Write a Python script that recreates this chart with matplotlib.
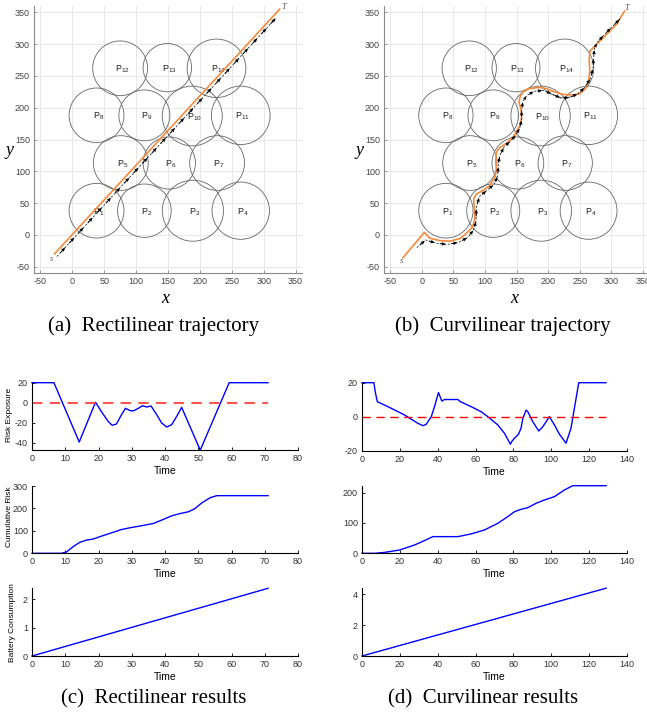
import numpy as np
import matplotlib
matplotlib.use("Agg")
import matplotlib.pyplot as plt
from matplotlib.patches import Circle

# ---------------- data ----------------
circle_names = ["1", "2", "3", "4", "5", "6", "7", "8", "9", "10", "11", "12", "13", "14"]
circle_cx = [38, 113, 189, 264, 76, 152, 227, 38, 113, 188, 264, 75, 149, 226]
circle_cy = [38, 38, 38, 38, 113, 113, 113, 188, 188, 187, 188, 262, 263, 262]
circle_r = [43, 42, 48, 45, 43, 41, 43, 43, 40, 47, 46, 43, 38, 46]

# rectilinear trajectory (a)
rect_orange_x = [-28, 325]
rect_orange_y = [-30, 355]
rect_black_start = (-24, -34)
rect_black_end = (320, 342)
rect_n_arrows = 24

# curvilinear trajectory (b)
curv_orange_x = [-30, 4, 12, 28, 44, 60, 70, 80, 84, 83, 82, 86, 97, 107, 115, 118, 117, 118, 123,
                 134, 143, 149, 155, 158, 157, 154, 155, 160, 170, 186, 197, 207, 223, 239, 250, 259,
                 264, 266, 265, 266, 276, 292, 308, 321]
curv_orange_y = [-36, 4, -5, -9, -10, -6, 2, 12, 25, 43, 56, 64, 70, 77, 90, 101, 116, 130, 137,
                 144, 152, 161, 171, 184, 197, 208, 216, 225, 230, 232, 230, 226, 221, 220, 222, 230,
                 242, 258, 276, 289, 299, 315, 331, 352]
curv_black_x = [-8, 6, 22, 40, 58, 73, 82, 86, 86, 91, 103, 114, 120, 121, 123, 130, 140, 149, 155,
                158, 158, 160, 166, 178, 192, 206, 220, 234, 247, 258, 267, 271, 272, 273, 277, 288,
                300, 314]
curv_black_y = [-20, -8, -13, -15, -12, -4, 8, 22, 42, 60, 70, 79, 92, 108, 124, 138, 147, 157, 168,
                181, 196, 210, 219, 226, 227, 222, 215, 216, 222, 232, 246, 262, 278, 292, 302, 314,
                326, 340]

# risk exposure
t_risk_c = [0, 6.6, 14.2, 19.1, 20.9, 22.9, 24.1, 25.4, 26.9, 28.1, 29.5, 30.5, 32, 33.2, 34.5, 35.8,
            37.5, 39, 40.5, 42, 43.5, 45, 50.6, 59.3, 71]
risk_c = [20, 20, -39.3, 0.5, -9, -18.7, -22.6, -21.3, -12.1, -5.6, -7.9, -8.2, -5.6, -3, -4.3, -3.3,
          -12, -20.3, -24.3, -22, -13.8, -4.6, -47.5, 20, 20]
t_risk_d = [0, 6.3, 7, 8.1, 13.7, 22.5, 29.5, 32.2, 33.9, 36.6, 38.3, 40.4, 41.5, 42.2, 43.6, 50.7, 52,
            57.7, 63, 66.5, 71.8, 75.3, 78.4, 79.1, 80.5, 82.7, 84, 85, 86.7, 87.6, 90.2, 93.4, 95.5,
            99, 101.7, 104.3, 107.8, 110.4, 112.2, 114.5, 128.9]
risk_d = [20, 20, 14.6, 8.8, 5.9, 1, -3.9, -5.3, -4.5, 0, 5.9, 14.2, 11.1, 9.2, 10.1, 10.1, 8.8,
          5.9, 2.9, 0, -4.9, -9.8, -16.2, -14.6, -12.7, -10.3, -6.8, -1, 3.9, 2.9, -2.9, -8.4, -5.9,
          0, -4.9, -10.3, -15.6, -6.8, 4.9, 20, 20]

# cumulative risk
t_cum_c = [0, 8.8, 10.4, 12.4, 14.4, 16.4, 18.4, 20.4, 22.4, 24.9, 26.9, 29.9, 33, 36.5, 39, 42,
           44.5, 47, 49, 51, 53.6, 55.6, 57, 71]
cum_c = [0, 0, 6, 30, 49, 59, 63.5, 74, 84, 96, 106, 115, 123, 133, 148, 167, 177, 185, 199, 224,
         248, 257, 257, 257]
t_cum_d = [0, 6.7, 12, 19.9, 27.8, 33, 37.5, 50.7, 57.7, 64.7, 71.8, 77, 80.5, 84, 87.6, 92, 96.4,
           101.7, 107, 111.3, 129]
cum_d = [0, 0, 3, 11, 27.5, 42, 55, 55, 64, 77, 99, 121, 137, 145, 150.5, 165, 176, 187, 209, 223, 223]

# battery consumption
t_bat_c = [0, 71]
bat_c = [0, 2.38]
t_bat_d = [0, 129]
bat_d = [0, 4.38]

# ---------------- figure ----------------
plt.rcParams['font.family'] = ['Liberation Sans', 'DejaVu Sans']
plt.rcParams['mathtext.default'] = 'regular'
plt.rcParams['axes.unicode_minus'] = False
W, H = 647, 722
fig = plt.figure(figsize=(W / 100, H / 100), dpi=100)


def add_ax(left, top, width, bottom):
    return fig.add_axes([left / W, 1 - bottom / H, width / W, (bottom - top) / H])


GRAYTXT = "#444444"
SERIF = "Liberation Serif"


def style_map(ax, width_px):
    ax.set_xlim(-60, 360)
    ax.set_ylim(-60, 360)
    ticks = np.arange(-50, 351, 50)
    ax.set_xticks(ticks)
    ax.set_yticks(ticks)
    ax.grid(True, color="#e8e8e8", lw=0.7)
    ax.set_axisbelow(True)
    for s in ["top", "right"]:
        ax.spines[s].set_visible(False)
    for s in ["left", "bottom"]:
        ax.spines[s].set_color("#8a8a8a")
        ax.spines[s].set_linewidth(0.8)
    ax.tick_params(direction="in", length=2.5, width=0.6, colors="#8a8a8a", labelsize=6.5,
                   labelcolor=GRAYTXT, pad=3)
    ax.set_xlabel("x", family=SERIF, style="italic", fontsize=13)
    ax.set_ylabel("y", family=SERIF, style="italic", fontsize=13, rotation=0)
    ax.xaxis.set_label_coords(0.49, -0.065)
    ax.yaxis.set_label_coords(-24 / width_px, 0.46)
    ax.yaxis.label.set_va("center")
    ax.yaxis.label.set_ha("center")
    for name, cx, cy, r in zip(circle_names, circle_cx, circle_cy, circle_r):
        ax.add_patch(Circle((cx, cy), r, fill=False, ec="#666666", lw=0.6))
        ax.text(cx + 3, cy - 2, r"P$_{%s}$" % name, fontsize=6.5, ha="center", va="center",
                color="#222222")


def draw_arrows(ax, xs, ys):
    xs = np.asarray(xs, float)
    ys = np.asarray(ys, float)
    ax.plot(xs, ys, color="k", lw=0.5, ls=(0, (3, 2.5)), zorder=4)
    dx = np.diff(xs)
    dy = np.diff(ys)
    ax.quiver(xs[:-1] + 0.35 * dx, ys[:-1] + 0.35 * dy, 0.55 * dx, 0.55 * dy, angles="xy",
              scale_units="xy", scale=1, color="k", width=0.0035, headwidth=4, headlength=4.5,
              headaxislength=4, zorder=5)


# (a)
axa = add_ax(34, 6, 268, 273)
style_map(axa, 268)
axa.plot(rect_orange_x, rect_orange_y, color="#f58a3c", lw=1.2, zorder=3)
bx = np.linspace(rect_black_start[0], rect_black_end[0], rect_n_arrows + 1)
by = np.linspace(rect_black_start[1], rect_black_end[1], rect_n_arrows + 1)
draw_arrows(axa, bx, by)
axa.text(rect_orange_x[0] - 5, rect_orange_y[0] - 8, "s", family=SERIF, style="italic", fontsize=6,
         color="#555555", ha="center", va="center")
axa.text(rect_orange_x[1] + 6, rect_orange_y[1] + 4, "T", family=SERIF, style="italic", fontsize=6,
         color="#555555", ha="center", va="center")

# (b)
axb = add_ax(384, 6, 265.2, 273)
style_map(axb, 265.2)
axb.plot(curv_orange_x, curv_orange_y, color="#f58a3c", lw=1.2, zorder=3)
draw_arrows(axb, curv_black_x, curv_black_y)
axb.text(curv_orange_x[0] - 3, curv_orange_y[0] - 5, "s", family=SERIF, style="italic", fontsize=6,
         color="#555555", ha="center", va="center")
axb.text(curv_orange_x[-1] + 4, curv_orange_y[-1] + 5, "T", family=SERIF, style="italic", fontsize=6,
         color="#555555", ha="center", va="center")

fig.text(154 / W, 1 - 326 / H, "(a)  Rectilinear trajectory", family=SERIF, fontsize=15,
         ha="center", va="center")
fig.text(503 / W, 1 - 326 / H, "(b)  Curvilinear trajectory", family=SERIF, fontsize=15,
         ha="center", va="center")
fig.text(154 / W, 1 - 699 / H, "(c)  Rectilinear results", family=SERIF, fontsize=15,
         ha="center", va="center")
fig.text(483 / W, 1 - 699 / H, "(d)  Curvilinear results", family=SERIF, fontsize=15,
         ha="center", va="center")


def style_ts(ax, xmax, xticks):
    ax.set_xlim(0, xmax)
    ax.set_xticks(xticks)
    for s in ["top", "right"]:
        ax.spines[s].set_visible(False)
    for s in ["left", "bottom"]:
        ax.spines[s].set_linewidth(0.8)
    ax.tick_params(direction="in", length=2.5, width=0.6, labelsize=6.5, labelcolor="#333333",
                   pad=3)
    ax.set_xlabel("Time", fontsize=7.5, labelpad=2)


def ylab(ax, text, xpx, ypos):
    ax.set_ylabel(text, fontsize=6)
    ax.yaxis.set_label_coords((xpx - 32) / 266, ypos)


BLUE = "#0000ff"
# (c)
ax = add_ax(32, 382.7, 266, 450)
ax.plot(t_risk_c, risk_c, color=BLUE, lw=1.0, clip_on=False)
ax.plot([0, t_risk_c[-1]], [0, 0], color="#ff5555", lw=1.5, ls=(0, (5, 3.5)))
ax.set_ylim(-47.3, 20)
ax.set_yticks([-40, -20, 0, 20])
style_ts(ax, 80, np.arange(0, 81, 10))
ylab(ax, "Risk Exposure", 13, 0.52)

ax = add_ax(32, 486, 266, 553.3)
ax.plot(t_cum_c, cum_c, color=BLUE, lw=1.0, clip_on=False)
ax.set_ylim(0, 300)
ax.set_yticks([0, 100, 200, 300])
style_ts(ax, 80, np.arange(0, 81, 10))
ylab(ax, "Cumulative Risk", 13, 0.55)

ax = add_ax(32, 588, 266, 656)
ax.plot(t_bat_c, bat_c, color=BLUE, lw=1.0, clip_on=False)
ax.set_ylim(0, 2.39)
ax.set_yticks([0, 1, 2])
style_ts(ax, 80, np.arange(0, 81, 10))
ylab(ax, "Battery Consumption", 16, 0.49)

# (d)
ax = add_ax(362, 382.7, 265, 450.7)
ax.plot(t_risk_d, risk_d, color=BLUE, lw=1.0, clip_on=False)
ax.plot([0, t_risk_d[-1]], [0, 0], color="#ff0000", lw=1.0, ls=(0, (6, 4)))
ax.set_ylim(-20, 20)
ax.set_yticks([-20, 0, 20])
style_ts(ax, 140, np.arange(0, 141, 20))

ax = add_ax(362, 486, 265, 553.3)
ax.plot(t_cum_d, cum_d, color=BLUE, lw=1.0, clip_on=False)
ax.set_ylim(0, 222)
ax.set_yticks([0, 100, 200])
style_ts(ax, 140, np.arange(0, 141, 20))

ax = add_ax(362, 588, 265, 656)
ax.plot(t_bat_d, bat_d, color=BLUE, lw=1.0, clip_on=False)
ax.set_ylim(0, 4.39)
ax.set_yticks([0, 2, 4])
style_ts(ax, 140, np.arange(0, 141, 20))

fig.savefig("out.png", dpi=100)
